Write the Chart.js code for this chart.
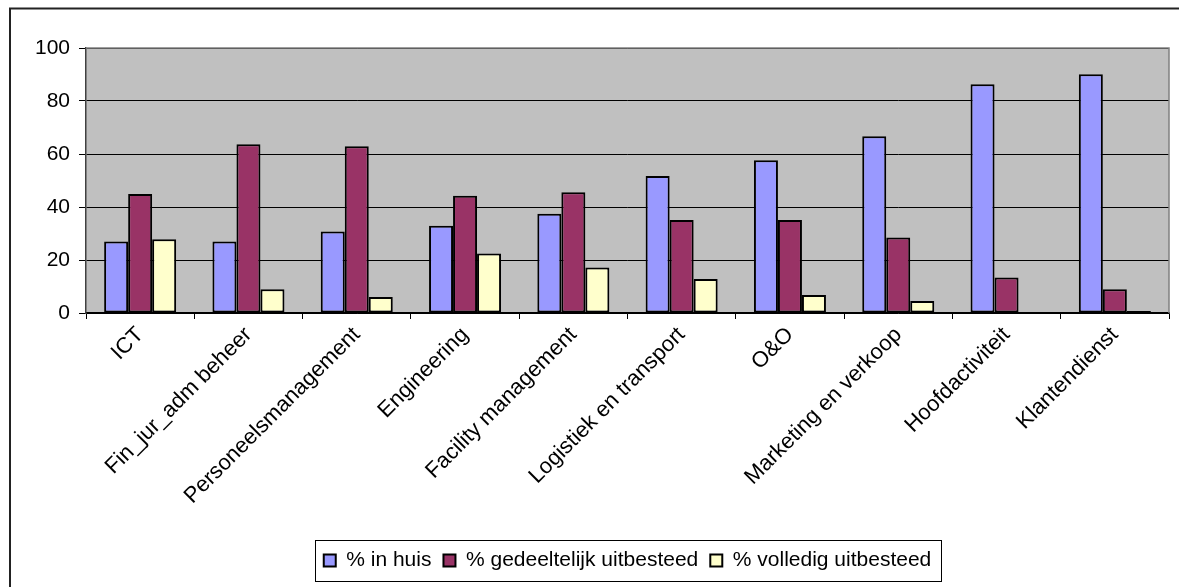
<!DOCTYPE html>
<html>
<head>
<meta charset="utf-8">
<script src="https://cdn.jsdelivr.net/npm/chart.js@4.4.1/dist/chart.umd.min.js"></script>
<style>
  html, body { margin: 0; padding: 0; background: #ffffff; }
  #wrap { width: 1179px; height: 587px; position: relative; }
</style>
</head>
<body>
<div id="wrap"><canvas id="chart"></canvas></div>
<script>
// Afdelingen en mate van uitbesteding (%)
const categories = ['ICT', 'Fin_jur_adm beheer', 'Personeelsmanagement', 'Engineering', 'Facility management',
  'Logistiek en transport', 'O&O', 'Marketing en verkoop', 'Hoofdactiviteit', 'Klantendienst'];
const inHuis       = [27.0, 27.0, 30.8, 32.9, 37.5, 51.7, 57.6, 66.7, 86.3, 90.1];
const gedeeltelijk = [44.9, 63.7, 62.9, 44.2, 45.6, 35.1, 35.1, 28.5, 13.4, 9.0];
const volledig     = [27.8, 9.0, 6.0, 22.5, 17.2, 12.8, 6.8, 4.5, 0, 0.8];
const seriesNames  = ['% in huis', '% gedeeltelijk uitbesteed', '% volledig uitbesteed'];
const yTicks       = [0, 20, 40, 60, 80, 100];

const FONT = 'Liberation Sans, Arial, sans-serif';

// grey plot background
const plotBackground = {
  id: 'plotBackground',
  beforeDraw(chart) {
    const { ctx, chartArea: a } = chart;
    ctx.save();
    ctx.fillStyle = '#C0C0C0';
    ctx.fillRect(a.left, a.top, a.right - a.left, a.bottom - a.top);
    ctx.restore();
  }
};

// plot frame, outer frame and legend box
const frames = {
  id: 'frames',
  afterDraw(chart) {
    const { ctx, chartArea: a } = chart;
    ctx.save();
    // plot frame (top and right)
    ctx.strokeStyle = '#808080';
    ctx.lineWidth = 1.5;
    ctx.beginPath();
    ctx.moveTo(a.left, a.top);
    ctx.lineTo(a.right, a.top);
    ctx.lineTo(a.right, a.bottom);
    ctx.stroke();
    // outer frame
    ctx.strokeStyle = '#222';
    ctx.lineWidth = 2;
    ctx.beginPath();
    ctx.moveTo(10, 600);
    ctx.lineTo(10, 8.5);
    ctx.lineTo(1200, 8.5);
    ctx.stroke();
    // legend box
    const boxes = chart.legend.legendHitBoxes;
    if (boxes && boxes.length) {
      const left = Math.min(...boxes.map(b => b.left));
      const right = Math.max(...boxes.map(b => b.left + b.width));
      const mid = boxes[0].top + boxes[0].height / 2;
      ctx.strokeStyle = '#000';
      ctx.lineWidth = 1;
      ctx.strokeRect(Math.round(left - 9) + 0.5, Math.round(mid - 20.5) + 0.5,
                     Math.round(right - left + 19), 41);
    }
    ctx.restore();
  }
};

const barStyle = { borderColor: '#000', borderWidth: 2, borderSkipped: false };

new Chart(document.getElementById('chart'), {
  type: 'bar',
  data: {
    labels: categories,
    datasets: [
      { label: seriesNames[0], data: inHuis, backgroundColor: '#9999FF', ...barStyle },
      { label: seriesNames[1], data: gedeeltelijk, backgroundColor: '#993366', ...barStyle },
      { label: seriesNames[2], data: volledig, backgroundColor: '#FFFFCC', ...barStyle }
    ]
  },
  options: {
    responsive: true,
    maintainAspectRatio: false,
    animation: false,
    layout: { padding: { left: 0, right: 10, top: 48, bottom: 6 } },
    datasets: { bar: { barPercentage: 1, categoryPercentage: 0.665 } },
    plugins: {
      tooltip: { enabled: false },
      legend: {
        position: 'bottom',
        fullSize: false,
        labels: {
          color: '#000',
          font: { family: FONT, size: 21 },
          boxWidth: 12,
          boxHeight: 12,
          padding: 12
        }
      }
    },
    scales: {
      x: {
        offset: true,
        grid: { offset: true, drawOnChartArea: false, drawTicks: true, tickLength: 6, color: '#000', lineWidth: 1 },
        border: { color: '#000', width: 1.5 },
        ticks: {
          color: '#000', font: { family: FONT, size: 22 },
          minRotation: 45, maxRotation: 45, autoSkip: false, padding: 3
        },
        afterFit(scale) { scale.height = 225; }
      },
      y: {
        min: 0, max: 100,
        afterBuildTicks(scale) { scale.ticks = yTicks.map(v => ({ value: v })); },
        grid: { color: '#000', lineWidth: 1, tickLength: 7, drawTicks: true },
        border: { color: '#404040', width: 1.5 },
        ticks: { color: '#000', font: { family: FONT, size: 21 }, padding: 9 },
        afterFit(scale) { scale.width = 86; }
      }
    }
  },
  plugins: [plotBackground, frames]
});
</script>
</body>
</html>
